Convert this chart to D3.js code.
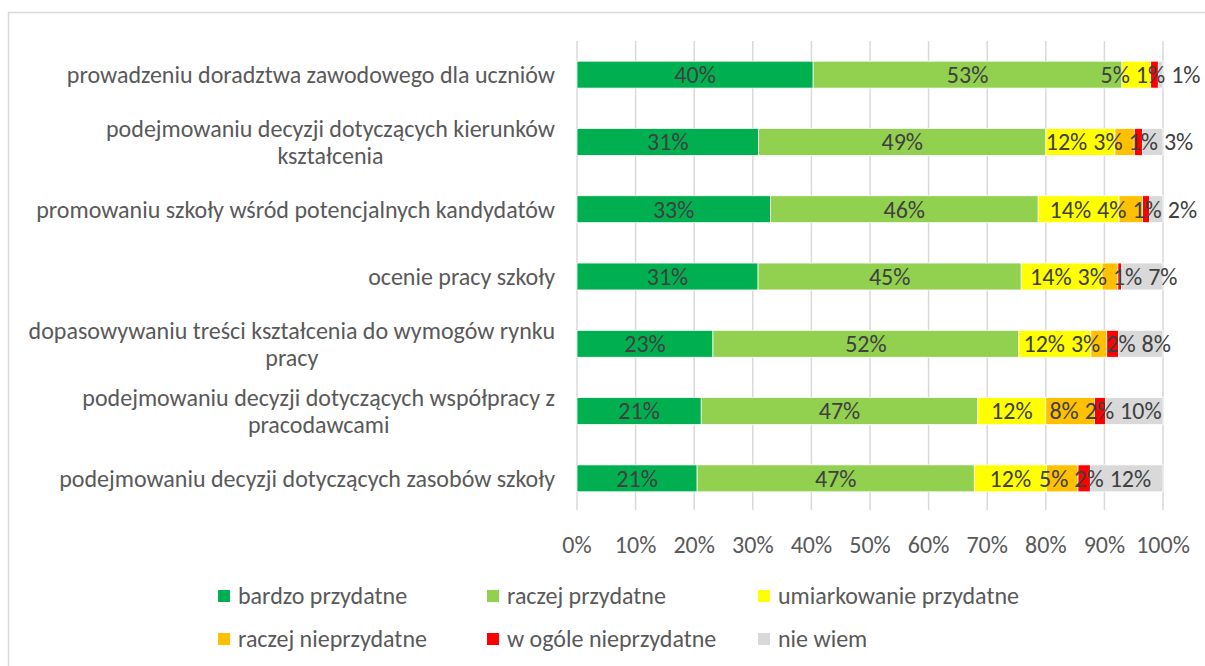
<!DOCTYPE html>
<html>
<head>
<meta charset="utf-8">
<script src="https://cdn.jsdelivr.net/npm/d3@7"></script>
<style>
  body { margin: 0; background: #fff; }
  svg text { font-family: Carlito, Calibri, Lato, "Open Sans", sans-serif; }
</style>
</head>
<body>
<div id="chart"></div>
<script>
var categories = [
  ["prowadzeniu doradztwa zawodowego dla uczniów"],
  ["podejmowaniu decyzji dotyczących kierunków", "kształcenia"],
  ["promowaniu szkoły wśród potencjalnych kandydatów"],
  ["ocenie pracy szkoły"],
  ["dopasowywaniu treści kształcenia do wymogów rynku", "pracy"],
  ["podejmowaniu decyzji dotyczących współpracy z", "pracodawcami"],
  ["podejmowaniu decyzji dotyczących zasobów szkoły"]
];

var seriesNames = ["bardzo przydatne", "raczej przydatne", "umiarkowanie przydatne",
                   "raczej nieprzydatne", "w ogóle nieprzydatne", "nie wiem"];
var seriesColors = ["#00b050", "#92d050", "#ffff00", "#ffc000", "#ff0000", "#d9d9d9"];

// percent values per series, one entry per category (top to bottom)
var bardzo      = [40.3, 31.0, 33.0, 30.9, 23.2, 21.2, 20.5];
var raczej      = [52.7, 49.0, 45.7, 44.9, 52.2, 47.2, 47.3];
var umiarkowane = [ 4.9, 11.8, 13.8, 13.8, 12.3, 11.6, 12.3];
var raczejNie   = [ 0.0,  3.3,  4.0,  2.7,  2.7,  8.3,  5.4];
var wOgoleNie   = [ 1.3,  1.4,  1.2,  0.6,  2.0,  1.9,  2.1];
var nieWiem     = [ 0.8,  3.5,  2.3,  7.1,  7.6,  9.8, 12.4];

var tickValues = [0, 0.1, 0.2, 0.3, 0.4, 0.5, 0.6, 0.7, 0.8, 0.9, 1];

var values = [bardzo, raczej, umiarkowane, raczejNie, wOgoleNie, nieWiem];

var width = 1205, height = 666,
    fontSize = 24,
    labelGap = 6,
    margin = {top: 41, left: 577, right: 42, plotBottom: 512};

var svg = d3.select("#chart").append("svg")
    .attr("width", width)
    .attr("height", height);

// chart frame
svg.append("rect")
    .attr("x", 8.5).attr("y", 12.5)
    .attr("width", 1300).attr("height", 800)
    .attr("fill", "none")
    .attr("stroke", "#d9d9d9")
    .attr("stroke-width", 1.5);

var x = d3.scaleLinear()
    .domain([0, 1])
    .range([margin.left, width - margin.right]);

var y = d3.scaleBand()
    .domain(d3.range(categories.length))
    .range([margin.top, margin.plotBottom])
    .paddingInner(0.6)
    .paddingOuter(0.3);

// gridlines
svg.append("g")
    .attr("class", "grid")
  .selectAll("line")
    .data(tickValues)
    .enter().append("line")
    .attr("x1", function(d) { return x(d); })
    .attr("x2", function(d) { return x(d); })
    .attr("y1", margin.top)
    .attr("y2", margin.plotBottom - 2)
    .attr("stroke", "#d9d9d9")
    .attr("stroke-width", 1.5);

// stack the series
var rows = categories.map(function(c, i) {
  var row = {index: i};
  seriesNames.forEach(function(s, j) { row[s] = values[j][i] / 100; });
  return row;
});
var stacked = d3.stack().keys(seriesNames)(rows);

var layers = svg.append("g")
  .selectAll("g")
    .data(stacked)
    .enter().append("g")
    .attr("fill", function(d, j) { return seriesColors[j]; });

layers.selectAll("rect")
    .data(function(d) { return d; })
    .enter().append("rect")
    .attr("x", function(d) { return x(d[0]); })
    .attr("width", function(d) { return x(d[1]) - x(d[0]); })
    .attr("y", function(d) { return y(d.data.index); })
    .attr("height", y.bandwidth())
    .attr("stroke", "#fff")
    .attr("stroke-width", 0.75);

// data labels, centred on segments, then spread apart where they collide
var labelLayer = svg.append("g");
rows.forEach(function(row, i) {
  var items = [];
  stacked.forEach(function(layer) {
    var d = layer[i];
    if (d[1] - d[0] <= 0) return;
    var t = labelLayer.append("text")
        .attr("y", y(i) + y.bandwidth() / 2)
        .attr("dy", "0.35em")
        .attr("text-anchor", "middle")
        .attr("fill", "#404040")
        .style("font-size", fontSize + "px")
        .text(Math.round((d[1] - d[0]) * 100) + "%");
    items.push({node: t, c: x((d[0] + d[1]) / 2), w: t.node().getComputedTextLength()});
  });
  for (var k = 0; k < 300; k++) {
    for (var j = 0; j < items.length - 1; j++) {
      var a = items[j], b = items[j + 1];
      var overlap = (a.c + a.w / 2 + labelGap) - (b.c - b.w / 2);
      if (overlap > 0) { a.c -= overlap / 2; b.c += overlap / 2; }
    }
  }
  items.forEach(function(it) { it.node.attr("x", it.c); });
});

// category labels
var catLabels = svg.append("g")
  .selectAll("text")
    .data(categories)
    .enter().append("text")
    .attr("fill", "#595959")
    .style("font-size", fontSize + "px")
    .attr("text-anchor", "middle")
    .attr("y", function(d, i) { return y(i) + y.bandwidth() / 2; });

catLabels.each(function(lines, i) {
  var t = d3.select(this);
  var tmp = t.append("tspan").text(lines[0]);
  var w = tmp.node().getComputedTextLength();
  tmp.remove();
  var cx = 555 - w / 2;
  var lineH = 27;
  lines.forEach(function(line, k) {
    t.append("tspan")
      .attr("x", cx)
      .attr("dy", k === 0 ? (0.35 * fontSize - (lines.length - 1) * lineH / 2) : lineH)
      .text(line);
  });
});

// x axis labels
svg.append("g")
  .selectAll("text")
    .data(tickValues)
    .enter().append("text")
    .attr("x", function(d) { return x(d); })
    .attr("y", 545)
    .attr("dy", "0.35em")
    .attr("text-anchor", "middle")
    .attr("fill", "#595959")
    .style("font-size", fontSize + "px")
    .text(d3.format(".0%"));

// legend
var legendPos = [[218, 596], [487, 596], [758, 596], [218, 639], [487, 639], [758, 639]];

var legend = svg.append("g")
  .selectAll("g")
    .data(seriesNames)
    .enter().append("g")
    .attr("transform", function(d, i) {
      return "translate(" + legendPos[i][0] + "," + legendPos[i][1] + ")";
    });

legend.append("rect")
    .attr("x", 0).attr("y", -6)
    .attr("width", 12).attr("height", 12)
    .attr("fill", function(d, i) { return seriesColors[i]; });

legend.append("text")
    .attr("x", 20)
    .attr("dy", "0.35em")
    .attr("fill", "#595959")
    .style("font-size", fontSize + "px")
    .text(function(d) { return d; });
</script>
</body>
</html>
